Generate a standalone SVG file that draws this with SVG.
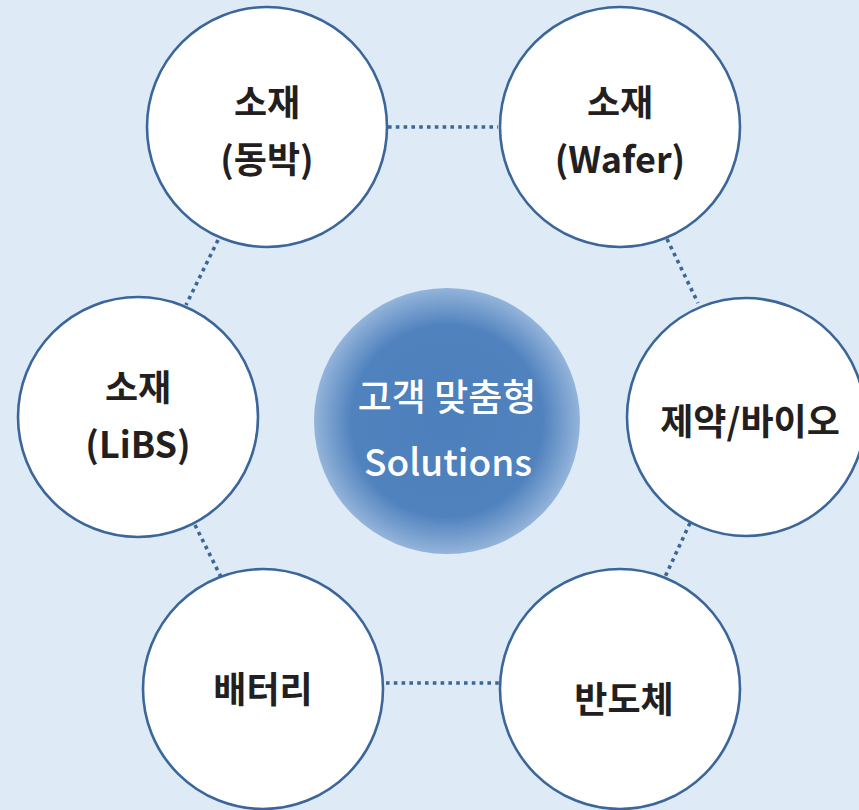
<svg xmlns="http://www.w3.org/2000/svg" width="859" height="810" viewBox="0 0 859 810">
<style>
.node{fill:#ffffff;stroke:#3b6699;stroke-width:2.6}
.lbl{font-family:"Noto Sans CJK KR","Noto Sans",sans-serif;font-weight:bold;font-size:36px;fill:#231f20;text-anchor:middle}
.clbl{font-family:"Noto Sans CJK KR","Noto Sans",sans-serif;font-weight:500;font-size:37px;fill:#ffffff;text-anchor:middle}
.conn{stroke:#3b6699;stroke-width:3.6;stroke-dasharray:3.6 4.2;fill:none}
</style>
<defs>
<radialGradient id="cg" cx="0.5" cy="0.5" r="0.5">
<stop offset="0" stop-color="#4d7fbc"/>
<stop offset="0.72" stop-color="#5082be"/>
<stop offset="1" stop-color="#94b4da"/>
</radialGradient>
</defs>
<rect width="859" height="810" fill="#deebf6"/>
<g id="connectors">
<line class="conn" x1="388" y1="127" x2="498" y2="127"/>
<line class="conn" x1="218" y1="240" x2="186" y2="305"/>
<line class="conn" x1="667" y1="239" x2="698" y2="303"/>
<line class="conn" x1="195" y1="525" x2="221" y2="577"/>
<line class="conn" x1="690" y1="523" x2="665" y2="577"/>
<line class="conn" x1="386" y1="683" x2="499" y2="683"/>
</g>
<g id="center">
<circle cx="447" cy="421" r="133" fill="url(#cg)"/>
<text class="clbl" x="447" y="411">고객 맞춤형</text>
<text class="clbl" x="448" y="476" font-size="35">Solutions</text>
</g>
<g id="n-copper">
<circle class="node" cx="267" cy="127" r="120"/>
<text class="lbl" x="267" y="116">소재</text>
<text class="lbl" x="267" y="173">(동박)</text>
</g>
<g id="n-wafer">
<circle class="node" cx="620" cy="127" r="120"/>
<text class="lbl" x="620" y="116">소재</text>
<text class="lbl" x="620" y="173">(Wafer)</text>
</g>
<g id="n-libs">
<circle class="node" cx="138" cy="417" r="120"/>
<text class="lbl" x="138" y="401">소재</text>
<text class="lbl" x="138" y="458">(LiBS)</text>
</g>
<g id="n-bio">
<circle class="node" cx="746" cy="417" r="119"/>
<text class="lbl" x="750" y="435" font-size="37">제약/바이오</text>
</g>
<g id="n-battery">
<circle class="node" cx="263" cy="689" r="120"/>
<text class="lbl" x="263" y="703">배터리</text>
</g>
<g id="n-semi">
<circle class="node" cx="620" cy="689" r="120"/>
<text class="lbl" x="624" y="713">반도체</text>
</g>
</svg>
